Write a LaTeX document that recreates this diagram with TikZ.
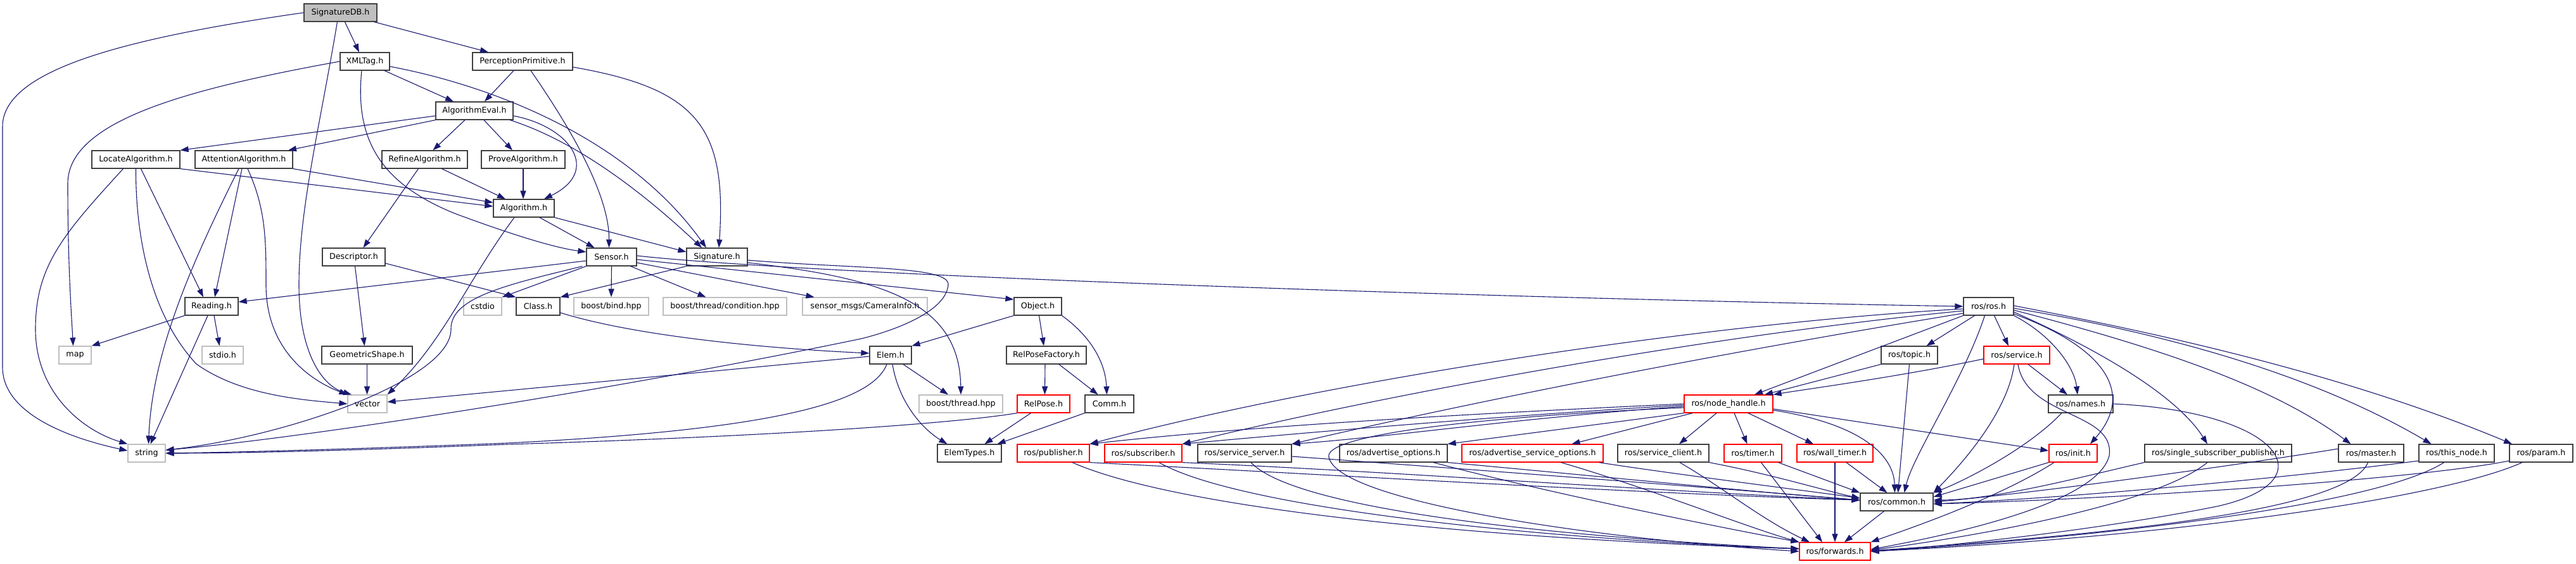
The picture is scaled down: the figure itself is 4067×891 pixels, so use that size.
\documentclass[tikz,border=0pt]{standalone}
\usepackage{fontspec}
\setmainfont{DejaVu Sans}
\usetikzlibrary{arrows.meta}
\definecolor{edgec}{HTML}{191970}
\definecolor{grayb}{HTML}{BFBFBF}
\definecolor{boxb}{HTML}{404040}
\begin{document}
\begin{tikzpicture}[x=1pt,y=-1pt,
  box/.style={draw=boxb,line width=1.2pt,fill=white,inner sep=0pt,minimum height=28pt,font=\fontsize{12.7}{15}\selectfont},
  ext/.style={box,draw=grayb},
  trunc/.style={box,draw=red},
  cur/.style={box,fill=grayb},
  e/.style={draw=edgec,line width=1.1pt,-{Triangle[length=13pt,width=9pt]}}]
\useasboundingbox[fill=white] (0,0) rectangle (4067,891);
% ---- nodes ----
\node[cur,minimum width=115pt] (sigdb) at (537.5,20) {SignatureDB.h};
\node[box,minimum width=78pt] (xmltag) at (576,97) {XMLTag.h};
\node[box,minimum width=158pt] (percprim) at (825,97) {PerceptionPrimitive.h};
\node[box,minimum width=122pt] (algeval) at (749,175) {AlgorithmEval.h};
\node[box,minimum width=139pt] (locate) at (214.5,252) {LocateAlgorithm.h};
\node[box,minimum width=154pt] (attention) at (385,252) {AttentionAlgorithm.h};
\node[box,minimum width=135pt] (refine) at (670.5,252) {RefineAlgorithm.h};
\node[box,minimum width=132pt] (prove) at (826,252) {ProveAlgorithm.h};
\node[box,minimum width=96pt] (algorithm) at (827,329) {Algorithm.h};
\node[box,minimum width=99pt] (descriptor) at (558.5,406) {Descriptor.h};
\node[box,minimum width=79pt] (sensor) at (965.5,406) {Sensor.h};
\node[box,minimum width=96pt] (signature) at (1132,406) {Signature.h};
\node[box,minimum width=84pt] (reading) at (334,484) {Reading.h};
\node[ext,minimum width=60pt] (cstdio) at (762,484) {cstdio};
\node[box,minimum width=69pt] (class) at (849.5,484) {Class.h};
\node[ext,minimum width=118pt] (bind) at (965,484) {boost/bind.hpp};
\node[ext,minimum width=195pt] (cond) at (1144.5,484) {boost/thread/condition.hpp};
\node[ext,minimum width=197pt] (caminfo) at (1365.5,484) {sensor\_msgs/CameraInfo.h};
\node[box,minimum width=75pt] (object) at (1638.5,484) {Object.h};
\node[box,minimum width=79pt] (rosros) at (3139.5,484) {ros/ros.h};
\node[ext,minimum width=51pt] (map) at (118.5,561) {map};
\node[ext,minimum width=65pt] (stdio) at (351.5,561) {stdio.h};
\node[box,minimum width=143pt] (geom) at (579.5,561) {GeometricShape.h};
\node[box,minimum width=66pt] (elem) at (1406,561) {Elem.h};
\node[box,minimum width=126pt] (relposefac) at (1652,561) {RelPoseFactory.h};
\node[box,minimum width=89pt] (topic) at (3014.5,561) {ros/topic.h};
\node[trunc,minimum width=104pt] (service) at (3184,561) {ros/service.h};
\node[ext,minimum width=62pt] (vector) at (580,638) {vector};
\node[ext,minimum width=132pt] (thread) at (1517,638) {boost/thread.hpp};
\node[trunc,minimum width=83pt] (relpose) at (1647.5,638) {RelPose.h};
\node[box,minimum width=77pt] (comm) at (1751.5,638) {Comm.h};
\node[trunc,minimum width=140pt] (nodehandle) at (2729,638) {ros/node\_handle.h};
\node[box,minimum width=102pt] (names) at (3285,638) {ros/names.h};
\node[ext,minimum width=59pt] (string) at (231.5,716) {string};
\node[box,minimum width=101pt] (elemtypes) at (1530.5,716) {ElemTypes.h};
\node[trunc,minimum width=114pt] (publisher) at (1663,716) {ros/publisher.h};
\node[trunc,minimum width=122pt] (subscriber) at (1805,716) {ros/subscriber.h};
\node[box,minimum width=148pt] (sserver) at (1965,716) {ros/service\_server.h};
\node[box,minimum width=170pt] (advopt) at (2200,716) {ros/advertise\_options.h};
\node[trunc,minimum width=223pt] (advsrvopt) at (2419.5,716) {ros/advertise\_service\_options.h};
\node[box,minimum width=144pt] (sclient) at (2626,716) {ros/service\_client.h};
\node[trunc,minimum width=91pt] (timer) at (2767.5,716) {ros/timer.h};
\node[trunc,minimum width=120pt] (walltimer) at (2897,716) {ros/wall\_timer.h};
\node[trunc,minimum width=76pt] (init) at (3273,716) {ros/init.h};
\node[box,minimum width=232pt] (ssp) at (3502,716) {ros/single\_subscriber\_publisher.h};
\node[box,minimum width=103pt] (master) at (3743.5,716) {ros/master.h};
\node[box,minimum width=119pt] (thisnode) at (3878.5,716) {ros/this\_node.h};
\node[box,minimum width=100pt] (param) at (4012,716) {ros/param.h};
\node[box,minimum width=115pt] (common) at (2994.5,793) {ros/common.h};
\node[trunc,minimum width=112pt] (forwards) at (2897,871) {ros/forwards.h};
% ---- edges: upper part ----
\draw[e] ([xshift=7pt]sigdb.south) -- ([xshift=-9pt]xmltag.north);
\draw[e] ([xshift=53pt]sigdb.south) -- ([xshift=-54pt]percprim.north);
\draw[e] (sigdb.west) .. controls (200,60) and (4,110) .. (4,200) -- (4,580) .. controls (4,650) and (100,690) .. ([yshift=4pt]string.west);
\draw[e] ([xshift=-5pt]sigdb.south) .. controls (505,200) and (472,330) .. (472,450) .. controls (472,560) and (510,610) .. ([xshift=-25pt]vector.north);
\draw[e] ([xshift=31pt]xmltag.south) -- ([xshift=-33pt]algeval.north);
\draw[e] ([yshift=-8pt]xmltag.east) .. controls (800,140) and (1000,230) .. ([xshift=-17pt]signature.north);
\draw[e] ([xshift=-5pt]xmltag.south) .. controls (560,220) and (600,290) .. (720,338) .. controls (820,375) and (880,392) .. ([yshift=8pt]sensor.west);
\draw[e] (xmltag.west) .. controls (300,140) and (107,190) .. (107,290) .. controls (107,420) and (113,500) .. ([xshift=-3pt]map.north);
\draw[e] ([xshift=-14pt]percprim.south) -- ([xshift=16pt]algeval.north);
\draw[e] ([xshift=13pt]percprim.south) .. controls (920,230) and (962,320) .. ([xshift=-4pt]sensor.north);
\draw[e] ([yshift=-9pt]percprim.east) .. controls (1100,140) and (1148,200) .. ([xshift=3pt]signature.north);
\draw[e] ([yshift=-8pt]algeval.west) -- (locate.north east);
\draw[e] (algeval.south west) -- ([xshift=70pt]attention.north);
\draw[e] ([xshift=-15pt]algeval.south) -- ([xshift=13pt]refine.north);
\draw[e] ([xshift=15pt]algeval.south) -- ([xshift=-17pt]prove.north);
\draw[e] ([yshift=-8pt]algeval.east) .. controls (900,200) and (950,270) .. ([xshift=32pt]algorithm.north);
\draw[e] ([xshift=56pt]algeval.south) .. controls (900,220) and (1000,290) .. ([xshift=-24pt]signature.north);
\draw[e] (locate.south east) -- ([yshift=3pt]algorithm.west);
\draw[e] (attention.south east) -- ([yshift=9pt]algorithm.west);
\draw[e] ([xshift=27pt]refine.south) -- ([xshift=-29pt]algorithm.north);
\draw[e] (prove.south) -- ([xshift=-1pt]algorithm.north);
\draw[e] ([xshift=-10pt]refine.south) -- ([xshift=15pt]descriptor.north);
\draw[e] ([xshift=8pt]locate.south) -- ([xshift=-13pt]reading.north);
\draw[e] ([xshift=-20pt]locate.south) .. controls (100,370) and (56,420) .. (56,520) .. controls (56,620) and (130,680) .. (string.north west);
\draw[e] (locate.south) .. controls (214,380) and (240,500) .. (310,575) .. controls (380,625) and (480,632) .. (vector.west);
\draw[e] ([xshift=-8pt]attention.south) .. controls (300,420) and (240,560) .. ([xshift=3pt]string.north);
\draw[e] ([xshift=-3pt]attention.south) -- ([xshift=5pt]reading.north);
\draw[e] ([xshift=6pt]attention.south) .. controls (420,330) and (420,380) .. (420,450) .. controls (420,560) and (500,605) .. (vector.north west);
\draw[e] ([xshift=2pt]descriptor.south) -- ([xshift=-4pt]geom.north);
\draw[e] ([yshift=-10pt]descriptor.east) -- (class.north west);
\draw[e] (geom.south) -- ([xshift=-0.5pt]vector.north);
\draw[e] ([xshift=25pt]algorithm.south) -- ([xshift=-27pt]sensor.north);
\draw[e] (algorithm.south east) -- ([yshift=8pt]signature.west);
\draw[e] ([xshift=-15pt]algorithm.south) .. controls (740,440) and (700,540) .. (vector.north east);
% sensor / signature
\draw[e] ([yshift=-6pt]sensor.west) -- ([yshift=7pt]reading.east);
\draw[e] (sensor.south west) -- (cstdio.north east);
\draw[e] (sensor.south) -- (bind.north);
\draw[e] ([xshift=30pt]sensor.south) -- ([xshift=-30pt]cond.north);
\draw[e] ([yshift=-9pt]sensor.east) -- ([xshift=-80pt]caminfo.north);
\draw[e] ([yshift=-4pt]sensor.east) -- ([yshift=11pt]object.west);
\draw[e] ([yshift=2pt]sensor.east) .. controls (1300,436) and (2400,472) .. (rosros.west);
\draw[e] ([xshift=-6pt]sensor.south west) .. controls (800,450) and (711,470) .. (712,520) .. controls (713,600) and (450,690) .. ([yshift=5pt]string.east);
\draw[e] (signature.south west) -- (class.north east);
\draw[e] ([yshift=-5pt]signature.east) .. controls (1350,425) and (1500,420) .. (1497,450) .. controls (1494,490) and (1420,520) .. (1360,535) .. controls (1000,610) and (500,690) .. ([yshift=5pt]string.east);
\draw[e] ([yshift=-9pt]signature.east) .. controls (1400,440) and (1515,480) .. (thread.north);
% class / object / elem
\draw[e] ([yshift=-10pt]class.east) .. controls (1000,530) and (1200,550) .. ([yshift=3pt]elem.west);
\draw[e] ([yshift=-2pt]elem.west) -- ([yshift=3pt]vector.east);
\draw[e] ([xshift=20pt]elem.south) -- ([xshift=-20pt]thread.north);
\draw[e] ([xshift=3pt]elem.south) .. controls (1420,640) and (1460,680) .. ([xshift=-35pt]elemtypes.north);
\draw[e] ([xshift=-6pt]elem.south) .. controls (1375,640) and (1200,680) .. (800,700) .. controls (600,708) and (400,714) .. (string.east);
\draw[e] (relpose.south west) .. controls (1500,670) and (1200,690) .. (800,702) .. controls (600,710) and (400,716) .. (string.east);
\draw[e] (object.south west) -- (elem.north east);
\draw[e] ([xshift=2pt]object.south) -- ([xshift=-4pt]relposefac.north);
\draw[e] (object.south east) .. controls (1720,530) and (1745,570) .. ([xshift=-4pt]comm.north);
\draw[e] ([xshift=-2pt]relposefac.south) -- ([xshift=2pt]relpose.north);
\draw[e] ([xshift=20pt]relposefac.south) -- ([xshift=-18pt]comm.north);
\draw[e] ([xshift=-20pt]relpose.south) -- ([xshift=24pt]elemtypes.north);
\draw[e] (comm.south west) -- ([xshift=44pt]elemtypes.north);
\draw[e] (reading.south west) -- (map.north east);
\draw[e] ([xshift=4pt]reading.south) -- ([xshift=-5pt]stdio.north);
\draw[e] ([xshift=-6pt]reading.south) -- ([xshift=6pt]string.north);
% ---- ros part ----
\draw[e] ([yshift=-4pt]rosros.west) .. controls (2700,510) and (2100,600) .. (publisher.north east);
\draw[e] ([yshift=-7pt]rosros.west) .. controls (2700,530) and (2200,620) .. (subscriber.north east);
\draw[e] ([yshift=-11pt]rosros.west) .. controls (2700,560) and (2300,640) .. (sserver.north east);
\draw[e] (rosros.south west) -- ([xshift=41pt]nodehandle.north);
\draw[e] ([xshift=-22pt]rosros.south) -- ([xshift=27pt]topic.north);
\draw[e] ([xshift=9pt]rosros.south) -- ([xshift=-13pt]service.north);
\draw[e] ([xshift=-6pt]rosros.south) .. controls (3100,600) and (3020,720) .. ([xshift=12pt]common.north);
\draw[e] (rosros.south east) .. controls (3240,530) and (3275,580) .. ([xshift=-5pt]names.north);
\draw[e] ([yshift=-12pt]rosros.east) .. controls (3300,540) and (3380,610) .. ([xshift=27pt]init.north);
\draw[e] ([yshift=-9pt]rosros.east) .. controls (3330,560) and (3440,630) .. ([xshift=-17pt]ssp.north);
\draw[e] ([yshift=-6pt]rosros.east) .. controls (3450,560) and (3600,620) .. ([xshift=-32pt]master.north);
\draw[e] ([yshift=-3pt]rosros.east) .. controls (3500,540) and (3700,620) .. ([xshift=-40pt]thisnode.north);
\draw[e] ([yshift=1pt]rosros.east) .. controls (3400,525) and (3700,590) .. ([xshift=-46pt]param.north);
\draw[e] (topic.south) -- ([xshift=2pt]common.north);
\draw[e] (topic.south west) -- ([xshift=57pt]nodehandle.north);
\draw[e] ([yshift=-6pt]service.west) .. controls (3000,595) and (2850,615) .. (nodehandle.north east);
\draw[e] ([xshift=-4pt]service.south) .. controls (3170,650) and (3100,730) .. (common.north east);
\draw[e] ([xshift=18pt]service.south) -- ([xshift=-21pt]names.north);
\draw[e] ([xshift=2pt]service.south) .. controls (3200,660) and (3340,650) .. (3330,720) .. controls (3310,800) and (3050,850) .. ([yshift=3pt]forwards.east);
% node_handle
\draw[e] (nodehandle.west) .. controls (2400,650) and (2000,670) .. (publisher.north east);
\draw[e] ([yshift=-2pt]nodehandle.west) .. controls (2400,655) and (2100,680) .. (subscriber.north east);
\draw[e] ([yshift=-4pt]nodehandle.west) .. controls (2400,660) and (2200,690) .. (sserver.north east);
\draw[e] (nodehandle.south west) -- (advopt.north east);
\draw[e] ([xshift=-57pt]nodehandle.south) -- ([xshift=62pt]advsrvopt.north);
\draw[e] ([xshift=-19pt]nodehandle.south) -- ([xshift=25pt]sclient.north);
\draw[e] ([xshift=9pt]nodehandle.south) -- ([xshift=-9pt]timer.north);
\draw[e] ([xshift=31pt]nodehandle.south) -- ([xshift=-34pt]walltimer.north);
\draw[e] ([yshift=-8pt]nodehandle.east) -- ([yshift=4pt]init.west);
\draw[e] ([yshift=-10pt]nodehandle.east) .. controls (2940,670) and (2990,720) .. ([xshift=-3pt]common.north);
\draw[e] ([yshift=-6pt]nodehandle.west) .. controls (2300,660) and (2090,690) .. (2098,722) .. controls (2110,790) and (2500,850) .. (forwards.west);
% second row to common / forwards
\draw[e] (publisher.south east) .. controls (2100,750) and (2600,780) .. ([yshift=3pt]common.west);
\draw[e] ([xshift=30pt]publisher.south) .. controls (1850,800) and (2300,850) .. ([yshift=4pt]forwards.west);
\draw[e] (subscriber.south east) .. controls (2200,745) and (2600,775) .. ([yshift=3pt]common.west);
\draw[e] ([xshift=25pt]subscriber.south) .. controls (1950,800) and (2400,850) .. ([yshift=4pt]forwards.west);
\draw[e] ([yshift=-5pt]sserver.east) .. controls (2300,740) and (2700,770) .. ([yshift=3pt]common.west);
\draw[e] ([xshift=10pt]sserver.south) .. controls (2050,810) and (2500,850) .. ([yshift=4pt]forwards.west);
\draw[e] (advopt.south east) .. controls (2500,750) and (2800,780) .. ([yshift=3pt]common.west);
\draw[e] ([xshift=63pt]advopt.south) .. controls (2450,780) and (2700,830) .. (forwards.north west);
\draw[e] ([xshift=105pt]advsrvopt.south) .. controls (2650,750) and (2850,775) .. ([yshift=6pt]common.west);
\draw[e] ([xshift=45pt]advsrvopt.south) .. controls (2600,770) and (2750,830) .. (forwards.north west);
\draw[e] (sclient.south east) .. controls (2800,750) and (2880,775) .. ([yshift=6pt]common.west);
\draw[e] ([xshift=26pt]sclient.south) .. controls (2720,770) and (2780,820) .. ([xshift=-40pt]forwards.north);
\draw[e] ([xshift=40pt]timer.south) -- (common.north west);
\draw[e] ([xshift=13pt]timer.south) -- ([xshift=-20pt]forwards.north);
\draw[e] ([xshift=18pt]walltimer.south) -- ([xshift=-15pt]common.north);
\draw[e] (walltimer.south) -- (forwards.north);
\draw[e] (init.south west) -- ([yshift=8pt]common.east);
\draw[e] ([xshift=-30pt]init.south) .. controls (3150,790) and (3000,840) .. (forwards.north east);
\draw[e] ([xshift=-30pt]names.south) .. controls (3200,710) and (3100,760) .. (common.north east);
\draw[e] (names.east) .. controls (3600,650) and (3680,760) .. (3500,800) .. controls (3300,840) and (3050,865) .. (forwards.east);
\draw[e] (ssp.south west) .. controls (3300,750) and (3150,790) .. ([yshift=3pt]common.east);
\draw[e] ([xshift=-17pt]ssp.south) .. controls (3400,800) and (3100,850) .. ([yshift=2pt]forwards.east);
\draw[e] ([yshift=7pt]master.west) .. controls (3500,740) and (3200,780) .. (common.east);
\draw[e] ([xshift=-5pt]master.south) .. controls (3710,800) and (3400,840) .. ([yshift=1pt]forwards.east);
\draw[e] ([yshift=-12pt]thisnode.west) .. controls (3650,750) and (3300,785) .. ([yshift=-3pt]common.east);
\draw[e] ([xshift=-20pt]thisnode.south) .. controls (3750,800) and (3300,850) .. (forwards.east);
\draw[e] ([yshift=-12pt]param.west) .. controls (3800,760) and (3300,790) .. ([yshift=-3pt]common.east);
\draw[e] ([xshift=-30pt]param.south) .. controls (3850,790) and (3400,850) .. (forwards.east);
\draw[e] ([xshift=-20pt]common.south) -- ([xshift=15pt]forwards.north);
\end{tikzpicture}
\end{document}
